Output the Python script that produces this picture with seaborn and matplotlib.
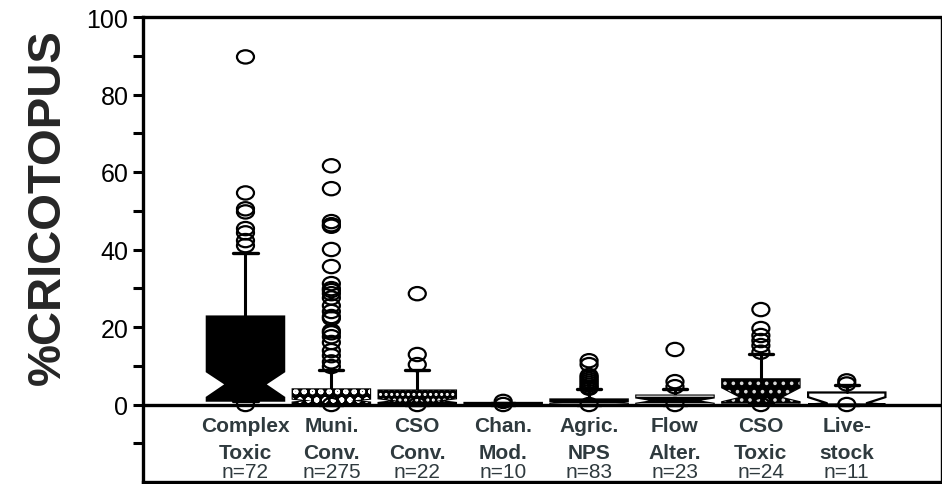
import numpy as np
import pandas as pd
import matplotlib
matplotlib.use("Agg")
import matplotlib.pyplot as plt
from matplotlib.path import Path
from matplotlib.patches import PathPatch
from matplotlib.transforms import Affine2D
import seaborn as sns

# Site categories (two-line labels) and sample sizes
label_line1 = ["Complex", "Muni.", "CSO", "Chan.", "Agric.", "Flow", "CSO", "Live-"]
label_line2 = ["Toxic", "Conv.", "Conv.", "Mod.", "NPS", "Alter.", "Toxic", "stock"]
sample_n = [72, 275, 22, 10, 83, 23, 24, 11]

# Box summaries (% Cricotopus)
q1 = [1.0, 0.0, 0.0, 0.0, 0.0, 0.0, 0.5, 0.0]
median = [5.2, 1.0, 1.0, 0.1, 0.5, 1.0, 1.8, 0.3]
q3 = [22.7, 3.9, 3.6, 0.4, 1.3, 2.3, 6.5, 3.1]
notch_lo = [1.8, 0.5, 0.4, 0.0, 0.2, 0.2, 0.6, 0.0]
notch_hi = [8.5, 1.5, 1.6, 0.2, 0.9, 1.8, 4.4, 1.9]
whisker_hi = [39.2, 9.0, 9.0, 0.4, 3.9, 3.9, 13.0, 5.1]

# Individual outlying samples
outliers = [
    [89.7, 54.6, 50.5, 49.7, 45.4, 44.3, 42.3, 41.0, 0.0],
    [61.6, 55.7, 47.2, 46.4, 46.0, 40.0, 35.6, 31.2, 29.9, 29.4, 28.6,
     27.5, 25.5, 24.0, 22.7, 22.2, 19.0, 18.5, 17.5, 16.0, 13.9, 12.6,
     11.0, 9.8, 0.0],
    [28.6, 12.9, 10.3, 0.0],
    [0.8, 0.0],
    [11.3, 10.3, 7.5, 7.0, 6.5, 6.0, 5.5, 5.0, 4.5, 4.2, 0.0],
    [14.2, 5.9, 4.6, 0.0],
    [24.5, 19.6, 17.8, 16.5, 15.2, 13.5, 0.0],
    [6.1, 5.3, 0.0],
]

fills = ["black", "black", "black", "black", "black", "black", "black", "white"]
hatches = [None, "oo", "...", None, "--", "--", "..", None]
hatch_colors = [None, "white", "white", None, "#bdbdbd", "#e6e6e6", "#d8d8d8", None]

sns.set_style("ticks")
plt.rcParams["font.family"] = ["Liberation Sans", "DejaVu Sans"]
plt.rcParams["hatch.linewidth"] = 1.4

fig = plt.figure(figsize=(9.42, 4.85), dpi=100)
ax = fig.add_axes([143 / 942, 2 / 485, 798 / 942, 465 / 485])

positions = np.arange(len(label_line1))
stats = []
for i in positions:
    stats.append(dict(med=median[i], q1=q1[i], q3=q3[i],
                      cilo=notch_lo[i], cihi=notch_hi[i],
                      whislo=q1[i], whishi=whisker_hi[i], fliers=[]))

bp = ax.bxp(stats, positions=positions, widths=0.9, capwidths=0.28,
            shownotches=True, patch_artist=True, showfliers=False,
            boxprops=dict(edgecolor="black", linewidth=1.6),
            whiskerprops=dict(color="black", linewidth=2.2),
            capprops=dict(color="black", linewidth=2.4),
            medianprops=dict(linewidth=0))

for box, fc, h, hc in zip(bp["boxes"], fills, hatches, hatch_colors):
    box.set_facecolor(fc)
    box.set_zorder(2)
    if h:
        overlay = PathPatch(box.get_path(), transform=box.get_transform(),
                            facecolor="none", edgecolor=hc, linewidth=0,
                            hatch=h, zorder=2.1)
        ax.add_patch(overlay)

# Outlying samples as open ellipses
flier_df = pd.DataFrame({
    "pos": np.concatenate([[i] * len(v) for i, v in enumerate(outliers)]),
    "value": np.concatenate(outliers),
})
ellipse = Path.unit_circle().transformed(Affine2D().scale(1.0, 0.78))
sns.scatterplot(data=flier_df, x="pos", y="value", ax=ax, marker=ellipse,
                s=150, facecolor="none", edgecolor="black", linewidth=1.6,
                zorder=4, legend=False, clip_on=False)

ax.axhline(0, color="black", linewidth=2.4, zorder=3)

ax.set_xlim(-1.193, 8.097)
ax.set_ylim(-20, 100)
ax.set_yticks([0, 20, 40, 60, 80, 100])
ax.set_yticks([-10, 10, 30, 50, 70, 90], minor=True)
ax.tick_params(axis="y", which="both", length=7.5, width=2.2, direction="out",
               labelsize=18, pad=3, colors="black")
ax.set_xticks([])
ax.set_xlabel("")
ax.set_ylabel("%CRICOTOPUS", fontsize=34, fontweight="bold")
ax.yaxis.set_label_coords(-0.092, 0.594)

for side in ["left", "top", "bottom"]:
    ax.spines[side].set_linewidth(2.4)
    ax.spines[side].set_color("black")
ax.spines["right"].set_linewidth(1.0)
ax.spines["right"].set_color("black")

label_color = "#2f3a3e"
for i in positions:
    ax.text(i, -6.9, label_line1[i], ha="center", va="baseline",
            fontsize=15, fontweight="bold", color=label_color)
    ax.text(i, -13.9, label_line2[i], ha="center", va="baseline",
            fontsize=15, fontweight="bold", color=label_color)
    ax.text(i, -18.6, f"n={sample_n[i]}", ha="center", va="baseline",
            fontsize=15, color=label_color)

fig.savefig("out.png", dpi=100)
